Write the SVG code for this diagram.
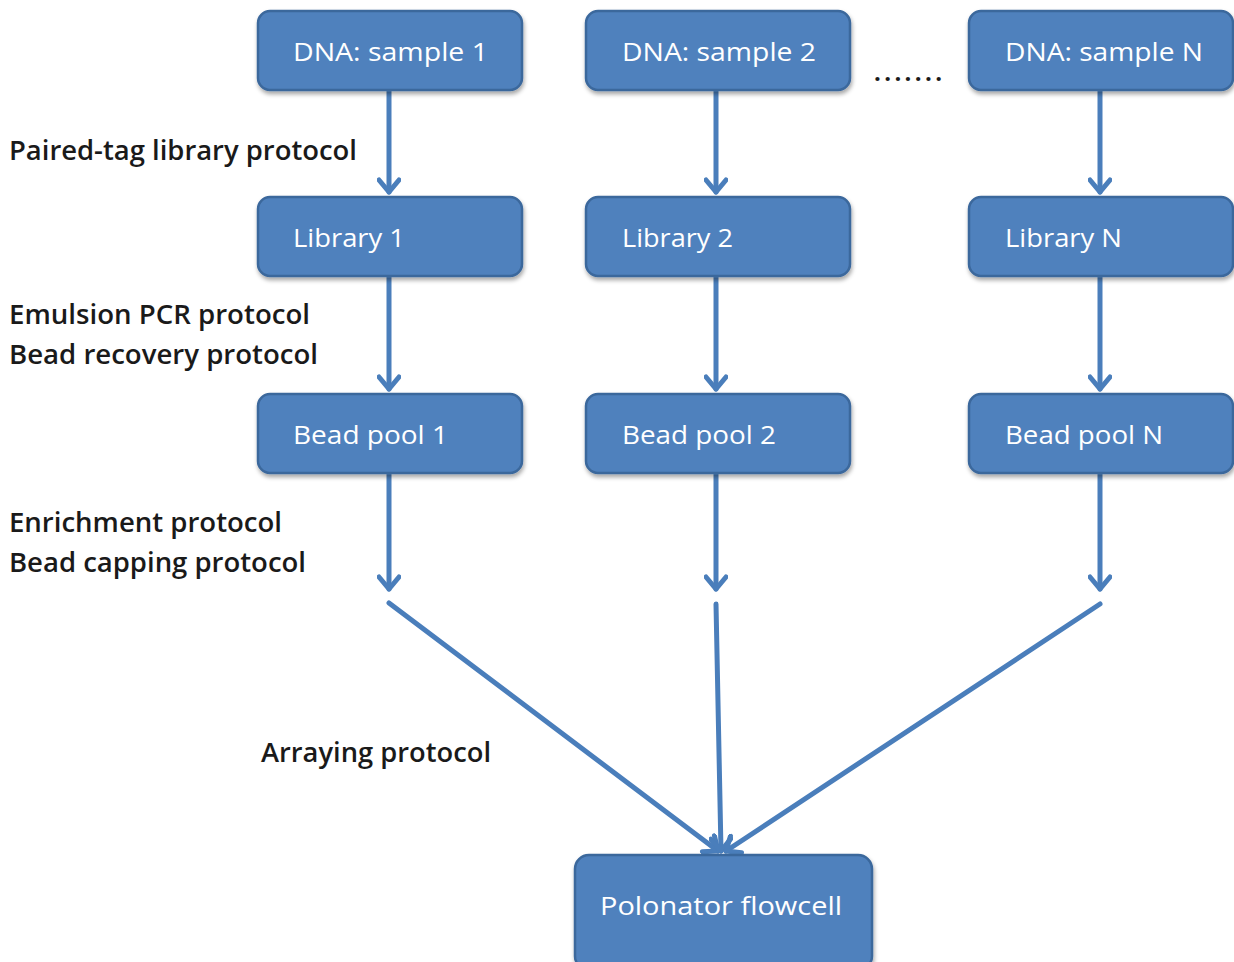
<svg xmlns="http://www.w3.org/2000/svg" width="1234" height="962" viewBox="0 0 1234 962">
<style>
.box{fill:#4F81BD;stroke:#3A679C;stroke-width:2.5}
.bt{font-family:"Open Sans","Liberation Sans",sans-serif;font-size:26px;fill:#FFFFFF}
.lbl{font-family:"Open Sans","Liberation Sans",sans-serif;font-size:27px;font-weight:600;fill:#1a1a1a}
.c{stroke:#4A7EBB;stroke-width:5;fill:none;stroke-linecap:round}
</style>
<defs>
<filter id="sh" x="-10%" y="-10%" width="120%" height="130%">
<feDropShadow dx="1" dy="3" stdDeviation="2" flood-color="#000" flood-opacity="0.35"/>
</filter>
<marker id="ah" viewBox="0 0 20 24" refX="17" refY="12" markerWidth="20" markerHeight="24" markerUnits="userSpaceOnUse" orient="auto">
<path d="M5,2 L17,12 L5,22" fill="none" stroke="#4A7EBB" stroke-width="5" stroke-linecap="round" stroke-linejoin="round"/>
</marker>
</defs>
<rect width="1234" height="962" fill="#FFFFFF"/>
<g id="connectors">
<line class="c" x1="389" y1="91" x2="389" y2="192" marker-end="url(#ah)"/>
<line class="c" x1="716" y1="91" x2="716" y2="192" marker-end="url(#ah)"/>
<line class="c" x1="1100" y1="91" x2="1100" y2="192" marker-end="url(#ah)"/>
<line class="c" x1="389" y1="277" x2="389" y2="389" marker-end="url(#ah)"/>
<line class="c" x1="716" y1="277" x2="716" y2="389" marker-end="url(#ah)"/>
<line class="c" x1="1100" y1="277" x2="1100" y2="389" marker-end="url(#ah)"/>
<line class="c" x1="389" y1="474" x2="389" y2="589" marker-end="url(#ah)"/>
<line class="c" x1="716" y1="474" x2="716" y2="589" marker-end="url(#ah)"/>
<line class="c" x1="1100" y1="474" x2="1100" y2="589" marker-end="url(#ah)"/>
<line class="c" x1="389" y1="603" x2="718" y2="851" marker-end="url(#ah)"/>
<line class="c" x1="716" y1="604" x2="721" y2="851" marker-end="url(#ah)"/>
<line class="c" x1="1100" y1="604" x2="726" y2="851" marker-end="url(#ah)"/>
</g>
<g id="dna1"><rect class="box" filter="url(#sh)" x="258" y="11" width="264" height="79" rx="12"/><text class="bt" x="293" y="61" textLength="195" lengthAdjust="spacingAndGlyphs">DNA: sample 1</text></g>
<g id="dna2"><rect class="box" filter="url(#sh)" x="586" y="11" width="264" height="79" rx="12"/><text class="bt" x="622" y="61" textLength="194" lengthAdjust="spacingAndGlyphs">DNA: sample 2</text></g>
<g id="dnaN"><rect class="box" filter="url(#sh)" x="969" y="11" width="264" height="79" rx="12"/><text class="bt" x="1005" y="61" textLength="198" lengthAdjust="spacingAndGlyphs">DNA: sample N</text></g>
<g id="lib1"><rect class="box" filter="url(#sh)" x="258" y="197" width="264" height="79" rx="12"/><text class="bt" x="293" y="247" textLength="112" lengthAdjust="spacingAndGlyphs">Library 1</text></g>
<g id="lib2"><rect class="box" filter="url(#sh)" x="586" y="197" width="264" height="79" rx="12"/><text class="bt" x="622" y="247" textLength="111" lengthAdjust="spacingAndGlyphs">Library 2</text></g>
<g id="libN"><rect class="box" filter="url(#sh)" x="969" y="197" width="264" height="79" rx="12"/><text class="bt" x="1005" y="247" textLength="117" lengthAdjust="spacingAndGlyphs">Library N</text></g>
<g id="bead1"><rect class="box" filter="url(#sh)" x="258" y="394" width="264" height="79" rx="12"/><text class="bt" x="293" y="444" textLength="155" lengthAdjust="spacingAndGlyphs">Bead pool 1</text></g>
<g id="bead2"><rect class="box" filter="url(#sh)" x="586" y="394" width="264" height="79" rx="12"/><text class="bt" x="622" y="444" textLength="154" lengthAdjust="spacingAndGlyphs">Bead pool 2</text></g>
<g id="beadN"><rect class="box" filter="url(#sh)" x="969" y="394" width="264" height="79" rx="12"/><text class="bt" x="1005" y="444" textLength="158" lengthAdjust="spacingAndGlyphs">Bead pool N</text></g>
<g id="flowcell"><rect class="box" filter="url(#sh)" x="575" y="855" width="297" height="115" rx="14"/><text class="bt" x="600" y="915" textLength="242" lengthAdjust="spacingAndGlyphs">Polonator flowcell</text></g>
<g id="labels">
<text class="lbl" x="9" y="160" textLength="348" lengthAdjust="spacingAndGlyphs">Paired-tag library protocol</text>
<text class="lbl" x="9" y="324" textLength="301" lengthAdjust="spacingAndGlyphs">Emulsion PCR protocol</text>
<text class="lbl" x="9" y="364" textLength="309" lengthAdjust="spacingAndGlyphs">Bead recovery protocol</text>
<text class="lbl" x="9" y="532" textLength="273" lengthAdjust="spacingAndGlyphs">Enrichment protocol</text>
<text class="lbl" x="9" y="572" textLength="297" lengthAdjust="spacingAndGlyphs">Bead capping protocol</text>
<text class="lbl" x="261" y="762" textLength="230" lengthAdjust="spacingAndGlyphs">Arraying protocol</text>
<text class="lbl" x="874" y="81" textLength="68" lengthAdjust="spacing" style="font-size:24px;font-weight:700">.......</text>
</g>
</svg>
